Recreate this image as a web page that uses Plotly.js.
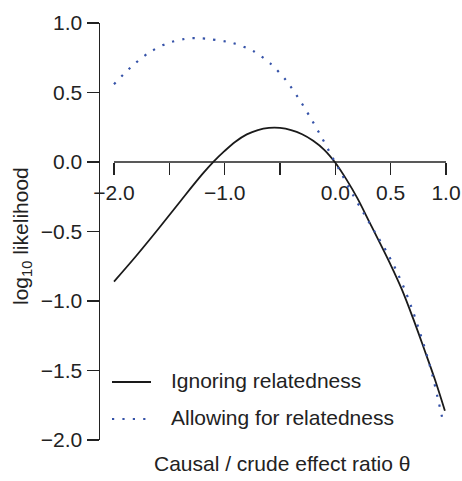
<!DOCTYPE html>
<html>
<head>
<meta charset="utf-8">
<script src="https://cdn.plot.ly/plotly-3.0.1.min.js"></script>
<style>html,body{margin:0;padding:0;background:#fff;}</style>
</head>
<body>
<div id="chart" style="width:462px;height:481px;"></div>
<script>
// Ignoring relatedness (solid black)
const ignoreX = [-2.0, -1.8, -1.6, -1.4, -1.2, -1.1, -1.0, -0.9, -0.8, -0.7, -0.6, -0.5, -0.4, -0.3, -0.2, -0.1, 0.0, 0.1, 0.2, 0.3, 0.4, 0.5, 0.6, 0.7, 0.8, 0.9, 0.99];
const ignoreY = [-0.86, -0.676, -0.482, -0.282, -0.086, 0.003, 0.08, 0.148, 0.199, 0.23, 0.245, 0.245, 0.23, 0.2, 0.153, 0.088, -0.005, -0.125, -0.262, -0.42, -0.578, -0.74, -0.915, -1.12, -1.34, -1.565, -1.79];
// Allowing for relatedness (dotted blue)
const allowX = [-2.0, -1.849, -1.693, -1.519, -1.322, -1.226, -1.124, -0.928, -0.742, -0.582, -0.446, -0.332, -0.227, -0.127, -0.033, 0.062, 0.156, 0.256, 0.36, 0.463, 0.556, 0.635, 0.704, 0.767, 0.825, 0.879, 0.924, 0.969];
const allowY = [0.56, 0.681, 0.782, 0.854, 0.89, 0.89, 0.883, 0.856, 0.799, 0.705, 0.588, 0.458, 0.322, 0.182, 0.043, -0.094, -0.232, -0.369, -0.508, -0.645, -0.789, -0.933, -1.081, -1.232, -1.383, -1.54, -1.693, -1.851];

const seriesNames = ["Ignoring relatedness", "Allowing for relatedness"];
const xTickVals = [-2, -1, 0, 0.5, 1];
const xTickText = ["\u22122.0", "\u22121.0", "0.0", "0.5", "1.0"];
const xMinorTickVals = [-1.5, -0.5];
const yTickVals = [-2, -1.5, -1, -0.5, 0, 0.5, 1];
const yTickText = ["\u22122.0", "\u22121.5", "\u22121.0", "\u22120.5", "0.0", "0.5", "1.0"];

const FONT = "Liberation Sans, Arial, Helvetica, sans-serif";
const INK = "#222222";
const BLACK = "#1a1a1a";
const BLUE = "#3552a8";
const DOTS = "2.2px,8.2px";

const W = 462, H = 481;
const M = {l: 100, r: 16, t: 23, b: 41};
const PW = W - M.l - M.r, PH = H - M.t - M.b;
const px = v => (v - M.l) / PW;         // pixel x -> paper x
const py = v => (H - M.b - v) / PH;     // pixel y -> paper y

const traces = [
  {x: ignoreX, y: ignoreY, type: "scatter", mode: "lines", name: seriesNames[0],
   line: {color: BLACK, width: 1.8, shape: "spline", smoothing: 1}},
  {x: allowX, y: allowY, type: "scatter", mode: "lines", name: seriesNames[1],
   line: {color: BLUE, width: 2.2, shape: "spline", smoothing: 0.8, dash: DOTS}}
];

const layout = {
  width: W, height: H,
  margin: M,
  paper_bgcolor: "#fff", plot_bgcolor: "#fff",
  font: {family: FONT, size: 21, color: INK},
  showlegend: false,
  xaxis: {range: [-2 - 14/110.67, 1], anchor: "free", position: 2/3, showline: false,
          showgrid: false, zeroline: false, ticks: "outside", ticklen: 12, tickwidth: 1.5,
          tickcolor: INK, tickmode: "array", tickvals: xTickVals, ticktext: xTickText,
          tickfont: {family: FONT, size: 21, color: INK},
          minor: {tickmode: "array", tickvals: xMinorTickVals, ticks: "outside", ticklen: 12,
                  tickwidth: 1.5, tickcolor: INK, showgrid: false}},
  yaxis: {range: [-2, 1], showline: true, linewidth: 1.5, linecolor: INK, showgrid: false,
          zeroline: false, ticks: "outside", ticklen: 12, tickwidth: 1.5, tickcolor: INK,
          tickmode: "array", tickvals: yTickVals, ticktext: yTickText,
          tickfont: {family: FONT, size: 21, color: INK}},
  shapes: [
    {type: "line", xref: "x", yref: "y", x0: -2, x1: 1, y0: 0, y1: 0,
     line: {color: INK, width: 1.5}, layer: "below"},
    // legend samples
    {type: "line", xref: "paper", yref: "paper", x0: px(112), x1: px(151), y0: py(382), y1: py(382),
     line: {color: BLACK, width: 1.8}},
    {type: "line", xref: "paper", yref: "paper", x0: px(112), x1: px(151), y0: py(419), y1: py(419),
     line: {color: BLUE, width: 2.2, dash: DOTS}}
  ],
  annotations: [
    {text: seriesNames[0], xref: "paper", yref: "paper", x: px(169), y: py(380),
     xanchor: "left", yanchor: "middle", showarrow: false, font: {family: FONT, size: 21, color: INK}},
    {text: seriesNames[1], xref: "paper", yref: "paper", x: px(169), y: py(417),
     xanchor: "left", yanchor: "middle", showarrow: false, font: {family: FONT, size: 21, color: INK}},
    {text: "Causal / crude effect ratio \u03b8", xref: "paper", yref: "paper",
     x: px(282), y: py(463), xanchor: "center", yanchor: "middle",
     showarrow: false, font: {family: FONT, size: 21, color: INK}},
    {text: "log<sub>10</sub> likelihood", xref: "paper", yref: "paper", textangle: -90,
     x: px(22), y: py(236), xanchor: "center", yanchor: "middle",
     showarrow: false, font: {family: FONT, size: 21, color: INK}}
  ]
};

Plotly.newPlot("chart", traces, layout, {displayModeBar: false, staticPlot: true});
</script>
</body>
</html>
